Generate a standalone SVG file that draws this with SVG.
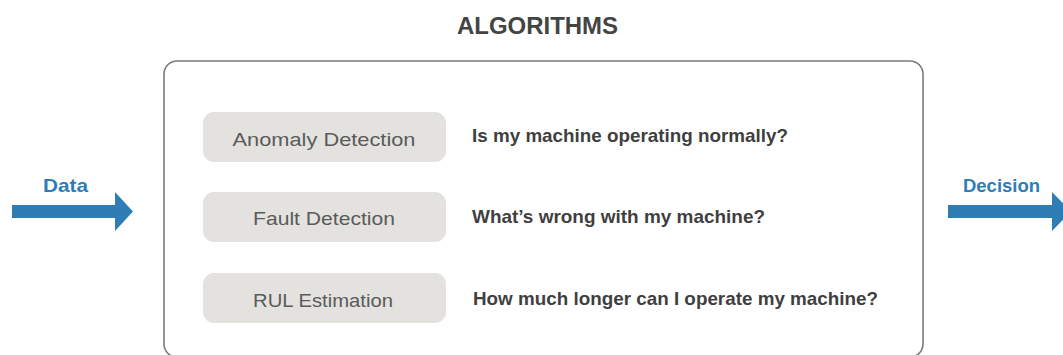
<svg xmlns="http://www.w3.org/2000/svg" width="1063" height="355" viewBox="0 0 1063 355">
  <style>
    .title { font-family: "Liberation Sans", Arial, sans-serif; font-weight: bold; font-size: 24px; fill: #444444; }
    .frame { fill: #ffffff; stroke: #7a7a7a; stroke-width: 1.6; }
    .pill { fill: #e3e2de; }
    .pill-text { font-family: "Liberation Sans", Arial, sans-serif; font-size: 19px; fill: #5a5a5a; text-anchor: middle; }
    .question { font-family: "Liberation Sans", Arial, sans-serif; font-weight: bold; font-size: 18.5px; fill: #3f3f3f; }
    .io-label { font-family: "Liberation Sans", Arial, sans-serif; font-weight: bold; font-size: 19px; fill: #2f7db5; }
    .arrow { fill: #2f7db5; }
  </style>

  <rect width="1063" height="355" fill="#ffffff"/>

  <!-- heading -->
  <text class="title" x="457" y="34" textLength="161" lengthAdjust="spacingAndGlyphs">ALGORITHMS</text>

  <!-- algorithm frame, its lower edge runs just past the bottom of the canvas -->
  <g id="algorithms">
    <rect class="frame" x="164" y="61" width="759" height="296" rx="13" ry="13"/>
  </g>

  <g id="anomaly-detection">
    <rect class="pill" x="203" y="112" width="243" height="50" rx="11" ry="11"/>
    <text class="pill-text" x="324" y="146" textLength="183" lengthAdjust="spacingAndGlyphs">Anomaly Detection</text>
    <text class="question" x="472" y="141.5" textLength="316" lengthAdjust="spacingAndGlyphs">Is my machine operating normally?</text>
  </g>

  <g id="fault-detection">
    <rect class="pill" x="203" y="192" width="243" height="50" rx="11" ry="11"/>
    <text class="pill-text" x="324" y="225" textLength="142" lengthAdjust="spacingAndGlyphs">Fault Detection</text>
    <text class="question" x="472" y="223" textLength="293" lengthAdjust="spacingAndGlyphs">What’s wrong with my machine?</text>
  </g>

  <g id="rul-estimation">
    <rect class="pill" x="203" y="273" width="243" height="50" rx="11" ry="11"/>
    <text class="pill-text" x="323" y="306.5" textLength="140" lengthAdjust="spacingAndGlyphs">RUL Estimation</text>
    <text class="question" x="473" y="305" textLength="405" lengthAdjust="spacingAndGlyphs">How much longer can I operate my machine?</text>
  </g>

  <!-- input / output arrows -->
  <g id="connectors">
    <g id="data-in">
      <text class="io-label" x="43" y="192" textLength="45" lengthAdjust="spacingAndGlyphs">Data</text>
      <polygon class="arrow" points="12,205 115,205 115,192 133,211.5 115,231 115,218 12,218"/>
    </g>
    <g id="decision-out">
      <text class="io-label" x="963" y="192" textLength="77" lengthAdjust="spacingAndGlyphs">Decision</text>
      <polygon class="arrow" points="948,205 1052,205 1052,192 1071,211.5 1052,231 1052,218 948,218"/>
    </g>
  </g>
</svg>
